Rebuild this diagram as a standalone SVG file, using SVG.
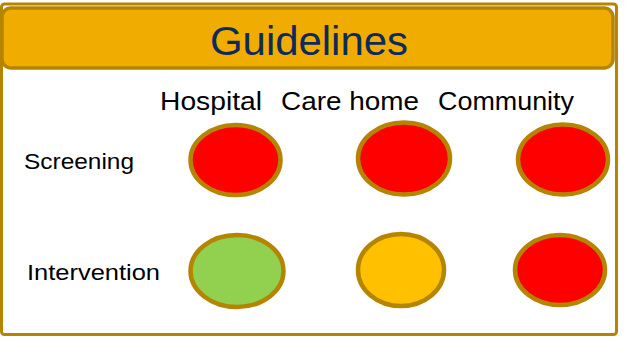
<svg xmlns="http://www.w3.org/2000/svg" width="625" height="338" viewBox="0 0 625 338">
<style>
.frame{fill:#fff;stroke:#B58400;stroke-width:3}
.hdr{fill:#F0AC00;stroke:#B58400;stroke-width:3.5}
.title{font-family:"Liberation Sans",Arial,sans-serif;font-size:40px;fill:#0D2A5C}
.lbl{font-family:"Liberation Sans",Arial,sans-serif;font-size:25px;fill:#000}
.row{font-family:"Liberation Sans",Arial,sans-serif;font-size:22px;fill:#000}
.dot{stroke:#B58400;stroke-width:4.5}
.red{fill:#FF0000}.green{fill:#92D050}.amber{fill:#FFC000}
</style>
<rect class="frame" x="1.5" y="4" width="615" height="330.5" rx="3"/>
<g id="header">
<rect class="hdr" x="2" y="8" width="611" height="60" rx="9"/>
<text class="title" x="210" y="55" textLength="198" lengthAdjust="spacingAndGlyphs">Guidelines</text>
</g>
<g id="col-hospital"><text class="lbl" x="160" y="110" textLength="102" lengthAdjust="spacingAndGlyphs">Hospital</text></g>
<g id="col-carehome"><text class="lbl" x="281" y="110" textLength="138" lengthAdjust="spacingAndGlyphs">Care home</text></g>
<g id="col-community"><text class="lbl" x="438" y="110" textLength="136" lengthAdjust="spacingAndGlyphs">Community</text></g>
<g id="row-screening"><text class="row" x="24" y="169" textLength="110" lengthAdjust="spacingAndGlyphs">Screening</text></g>
<g id="row-intervention"><text class="row" x="27" y="280" textLength="133" lengthAdjust="spacingAndGlyphs">Intervention</text></g>
<g id="screening-hospital"><ellipse class="dot red" cx="235.5" cy="160" rx="45" ry="35"/></g>
<g id="screening-carehome"><ellipse class="dot red" cx="404" cy="158.5" rx="46" ry="36"/></g>
<g id="screening-community"><ellipse class="dot red" cx="563" cy="159.5" rx="45" ry="35"/></g>
<g id="intervention-hospital"><ellipse class="dot green" cx="237" cy="271" rx="46.5" ry="36"/></g>
<g id="intervention-carehome"><ellipse class="dot amber" cx="401" cy="270" rx="43" ry="36"/></g>
<g id="intervention-community"><ellipse class="dot red" cx="560" cy="270" rx="45" ry="35"/></g>
<g id="connectors"></g>
</svg>
